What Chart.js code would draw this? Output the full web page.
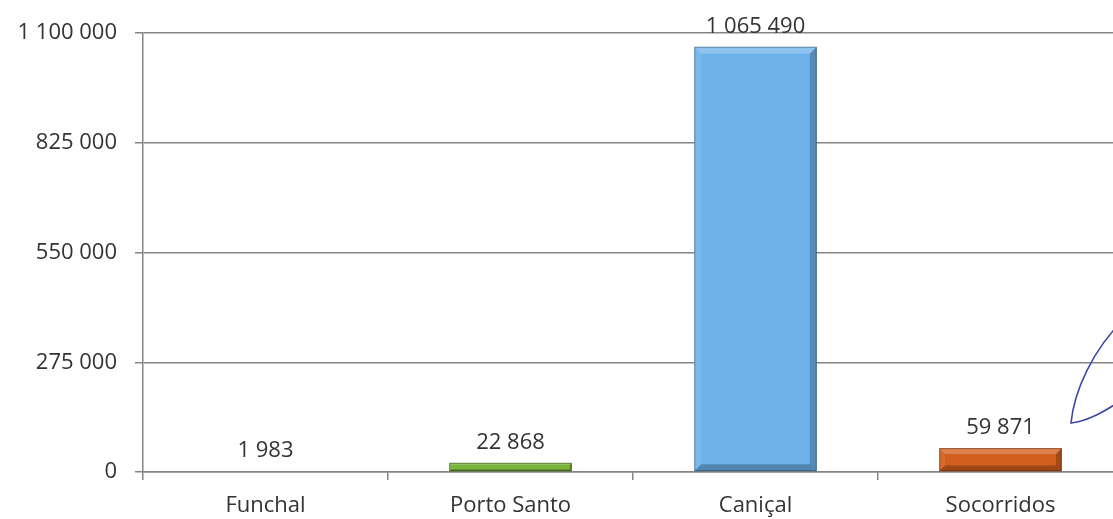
<!DOCTYPE html>
<html>
<head>
<meta charset="utf-8">
<script src="https://cdn.jsdelivr.net/npm/chart.js@4/dist/chart.umd.min.js"></script>
<style>
  html, body { margin: 0; padding: 0; background: #fff; overflow: hidden; }
  #wrap { position: relative; width: 1130px; height: 519px; }
</style>
</head>
<body>
<div id="wrap"><canvas id="c" width="1130" height="519"></canvas></div>
<script>
// Quantities per site
const categories = ['Funchal', 'Porto Santo', 'Caniçal', 'Socorridos'];
const values = [1983, 22868, 1065490, 59871];
const barColors = ['#c0504d', '#7ab43c', '#6eb2ea', '#d25f1e'];
const yTicks = [0, 275000, 550000, 825000, 1100000];

const FONT = { family: "'Open Sans', 'Noto Sans', sans-serif", size: 22 };
const TEXT = '#333333';
const LINE = '#858585';

// thousands separated by a plain space: 1 065 490
function fmt(v) {
  return String(Math.round(v)).replace(/\B(?=(\d{3})+(?!\d))/g, ' ');
}

// bevelled look for each bar, derived from the bar element geometry
const bevel = {
  id: 'bevel',
  afterDatasetsDraw(chart) {
    const ctx = chart.ctx;
    chart.getDatasetMeta(0).data.forEach((bar) => {
      const { x, y, base, width } = bar.getProps(['x', 'y', 'base', 'width'], true);
      const l = x - width / 2, r = x + width / 2;
      const t = Math.min(y, base), b = Math.max(y, base);
      const h = b - t;
      if (h < 2) return;
      const e = Math.min(7, h / 4, width / 2);
      const poly = (pts, fill) => {
        ctx.beginPath();
        ctx.moveTo(pts[0][0], pts[0][1]);
        for (let k = 1; k < pts.length; k++) ctx.lineTo(pts[k][0], pts[k][1]);
        ctx.closePath();
        ctx.fillStyle = fill;
        ctx.fill();
      };
      ctx.save();
      poly([[l, t], [r, t], [r - e, t + e], [l + e, t + e]], 'rgba(255,255,255,0.22)');
      poly([[l, t], [l + e, t + e], [l + e, b - e], [l, b]], 'rgba(255,255,255,0.08)');
      poly([[r, t], [r, b], [r - e, b - e], [r - e, t + e]], 'rgba(0,0,0,0.22)');
      poly([[l, b], [l + e, b - e], [r - e, b - e], [r, b]], 'rgba(0,0,0,0.25)');
      ctx.strokeStyle = 'rgba(0,0,0,0.30)';
      ctx.lineWidth = 1;
      ctx.strokeRect(l + 0.5, t + 0.5, width - 1, h - 1);
      ctx.restore();
    });
  }
};

// value labels above the bars
const valueLabels = {
  id: 'valueLabels',
  afterDatasetsDraw(chart) {
    const ctx = chart.ctx;
    const ds = chart.data.datasets[0];
    ctx.save();
    ctx.font = `${FONT.size}px ${FONT.family}`;
    ctx.fillStyle = TEXT;
    ctx.textAlign = 'center';
    ctx.textBaseline = 'alphabetic';
    chart.getDatasetMeta(0).data.forEach((bar, i) => {
      ctx.fillText(fmt(ds.data[i]), bar.x, bar.y - 14);
    });
    ctx.restore();
  }
};

// pen stroke in the right margin of the page
const penStroke = {
  id: 'penStroke',
  afterDraw(chart) {
    const ctx = chart.ctx;
    ctx.save();
    ctx.strokeStyle = '#3c48a8';
    ctx.lineWidth = 1.6;
    ctx.lineCap = 'round';
    ctx.beginPath();
    ctx.moveTo(1125, 318);
    ctx.bezierCurveTo(1092, 350, 1074, 392, 1071, 423);
    ctx.bezierCurveTo(1088, 421, 1104, 412, 1125, 398);
    ctx.stroke();
    ctx.restore();
  }
};

new Chart(document.getElementById('c'), {
  type: 'bar',
  data: {
    labels: categories,
    datasets: [{
      data: values,
      backgroundColor: barColors,
      borderWidth: 0,
      barPercentage: 0.5,
      categoryPercentage: 1.0
    }]
  },
  options: {
    responsive: false,
    animation: false,
    devicePixelRatio: 1,
    layout: { padding: { top: 33, right: 7, bottom: 0, left: 0 } },
    plugins: { legend: { display: false }, tooltip: { enabled: false } },
    scales: {
      x: {
        grid: { drawOnChartArea: false, drawTicks: true, tickLength: 8, color: LINE, lineWidth: 1.5, offset: true },
        border: { color: LINE, width: 1.5 },
        ticks: { color: TEXT, font: FONT, padding: 13, maxRotation: 0 },
        afterFit(s) { s.height = 47; }
      },
      y: {
        min: 0,
        max: 1100000,
        afterBuildTicks(s) { s.ticks = yTicks.map(v => ({ value: v })); },
        grid: { color: LINE, lineWidth: 1.5, tickLength: 8 },
        border: { color: LINE, width: 1.5 },
        ticks: { color: TEXT, font: FONT, padding: 18, callback: (v) => fmt(v) },
        afterFit(s) { s.width = 143; }
      }
    }
  },
  plugins: [bevel, valueLabels, penStroke]
});
</script>
</body>
</html>
